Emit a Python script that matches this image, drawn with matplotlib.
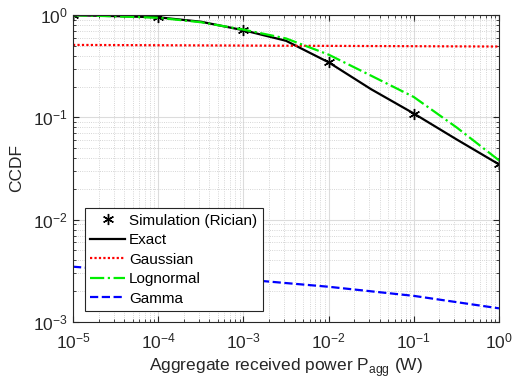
import matplotlib
matplotlib.use("Agg")
import matplotlib.pyplot as plt
import numpy as np

plt.rcParams['font.family'] = ['Liberation Sans', 'DejaVu Sans']

# Data
x_sim = [1e-5, 1e-4, 1e-3, 1e-2, 1e-1, 1e0]
y_sim = [0.99, 0.95, 0.71, 0.345, 0.109, 0.0347]

x_exact = [1e-5, 10**-4.5, 1e-4, 10**-3.5, 1e-3, 10**-2.5, 1e-2, 10**-1.5, 1e-1, 10**-0.5, 1e0]
y_exact = [0.995, 0.975, 0.95, 0.86, 0.71, 0.56, 0.345, 0.188, 0.109, 0.061, 0.0347]

x_gauss = [1e-5, 1e0]
y_gauss = [0.51, 0.492]

x_logn = [1e-5, 10**-4.5, 1e-4, 10**-3.5, 1e-3, 10**-2.5, 1e-2, 10**-1.5, 1e-1, 10**-0.5, 1e0]
y_logn = [0.995, 0.97, 0.94, 0.85, 0.72, 0.59, 0.41, 0.255, 0.158, 0.08, 0.038]

x_gamma = [1e-5, 1e-4, 1e-3, 1e-2, 1e-1, 1e0]
y_gamma = [0.00347, 0.00300, 0.00261, 0.00221, 0.00180, 0.00136]

fig = plt.figure(figsize=(5.13, 3.87), dpi=100)
ax = fig.add_axes([73/513, 1 - 322/387, (499-73)/513, (322-15)/387])

ax.plot(x_sim, y_sim, linestyle='none', marker=(6, 2, 0), color='black', markersize=8,
        markeredgewidth=1.0, label='Simulation (Rician)')
ax.plot(x_exact, y_exact, '-', color='black', linewidth=1.6, label='Exact')
ax.plot(x_gauss, y_gauss, linestyle=(0, (1, 1)), color='red', linewidth=1.6, label='Gaussian')
ax.plot(x_logn, y_logn, '-.', color='#00ee00', linewidth=1.6, label='Lognormal')
ax.plot(x_gamma, y_gamma, '--', color='blue', linewidth=1.6, label='Gamma')

ax.set_xscale('log')
ax.set_yscale('log')
ax.set_xlim(1e-5, 1e0)
ax.set_ylim(1e-3, 1e0)
ax.set_xticks([1e-5, 1e-4, 1e-3, 1e-2, 1e-1, 1e0])
ax.set_yticks([1e-3, 1e-2, 1e-1, 1e0])

ax.grid(True, which='major', color='#dcdcdc', linewidth=0.8, linestyle='-')
ax.grid(True, which='minor', color='#c8c8c8', linewidth=0.6, linestyle=':')
ax.set_axisbelow(True)

ax.tick_params(which='both', direction='in', top=True, right=True, labelsize=12.5, colors='#262626')
ax.tick_params(which='major', length=4)
ax.tick_params(which='minor', length=2)
ax.tick_params(axis='x', which='major', pad=7)
ax.tick_params(axis='y', which='major', pad=4)
for s in ax.spines.values():
    s.set_color('#262626')
    s.set_linewidth(0.8)

ax.set_xlabel('Aggregate received power P$_{\\mathregular{agg}}$ (W)', fontsize=12.5, color='#262626', labelpad=3)
ax.set_ylabel('CCDF', fontsize=12.5, color='#262626', labelpad=6)

leg = ax.legend(loc='lower left', bbox_to_anchor=(0.028, 0.036), fontsize=11,
                frameon=True, fancybox=False, edgecolor='#262626', framealpha=1,
                handlelength=2.3, handletextpad=0.25, borderaxespad=0, borderpad=0.35,
                labelspacing=0.36)
leg.get_frame().set_linewidth(0.8)

fig.savefig('out.png', dpi=100)
